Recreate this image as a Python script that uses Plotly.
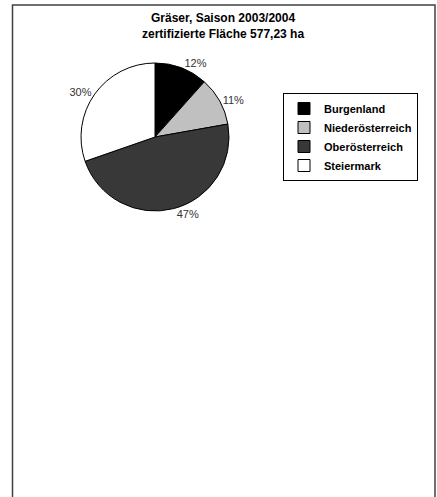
import plotly.graph_objects as go

regions = ["Burgenland", "Niederösterreich", "Oberösterreich", "Steiermark"]
area_ha = [67.0, 61.2, 274.0, 175.03]
colors = ["#000000", "#c0c0c0", "#383838", "#ffffff"]
title_lines = ["Gräser, Saison 2003/2004", "zertifizierte Fläche 577,23 ha"]

W, H = 437, 497

def px_x(v):
    return v / W

def px_y(v):
    return 1 - v / H

fig = go.Figure(go.Pie(
    labels=regions,
    values=area_ha,
    sort=False,
    direction="clockwise",
    rotation=0,
    marker=dict(colors=colors, line=dict(color="#000000", width=1)),
    textposition="outside",
    texttemplate="%{percent:.0%}",
    textfont=dict(family="Liberation Sans, Arial", size=11, color="#333333"),
    outsidetextfont=dict(family="Liberation Sans, Arial", size=11, color="#333333"),
    domain=dict(x=[px_x(81), px_x(229)], y=[px_y(211), px_y(63)]),
    hoverinfo="label+value+percent",
))

fig.update_layout(
    width=W, height=H,
    margin=dict(l=0, r=0, t=0, b=0),
    paper_bgcolor="white",
    plot_bgcolor="white",
    font=dict(family="Liberation Sans, Arial", color="#000000"),
    annotations=[dict(
        text="<b>" + "<br>".join(title_lines) + "</b>",
        xref="paper", yref="paper",
        x=px_x(223), xanchor="center",
        y=px_y(9), yanchor="top",
        showarrow=False,
        font=dict(size=12, family="Liberation Sans, Arial", color="#000000"),
    )],
    legend=dict(
        x=px_x(418), xanchor="right",
        y=px_y(93), yanchor="top",
        bordercolor="#000000", borderwidth=1,
        bgcolor="white",
        font=dict(size=11, family="Liberation Sans, Arial", color="#000000", weight="bold"),
        itemwidth=30,
        tracegroupgap=0,
    ),
    shapes=[dict(
        type="rect", xref="paper", yref="paper",
        x0=px_x(12.5), x1=px_x(435), y0=px_y(510), y1=px_y(5),
        line=dict(color="#404040", width=1.5),
        fillcolor="rgba(0,0,0,0)",
        layer="below",
    )],
)

fig.write_html(
    "out.html",
    config={"displayModeBar": False},
    post_script="document.body.style.margin='0';document.body.style.overflow='hidden';",
)
